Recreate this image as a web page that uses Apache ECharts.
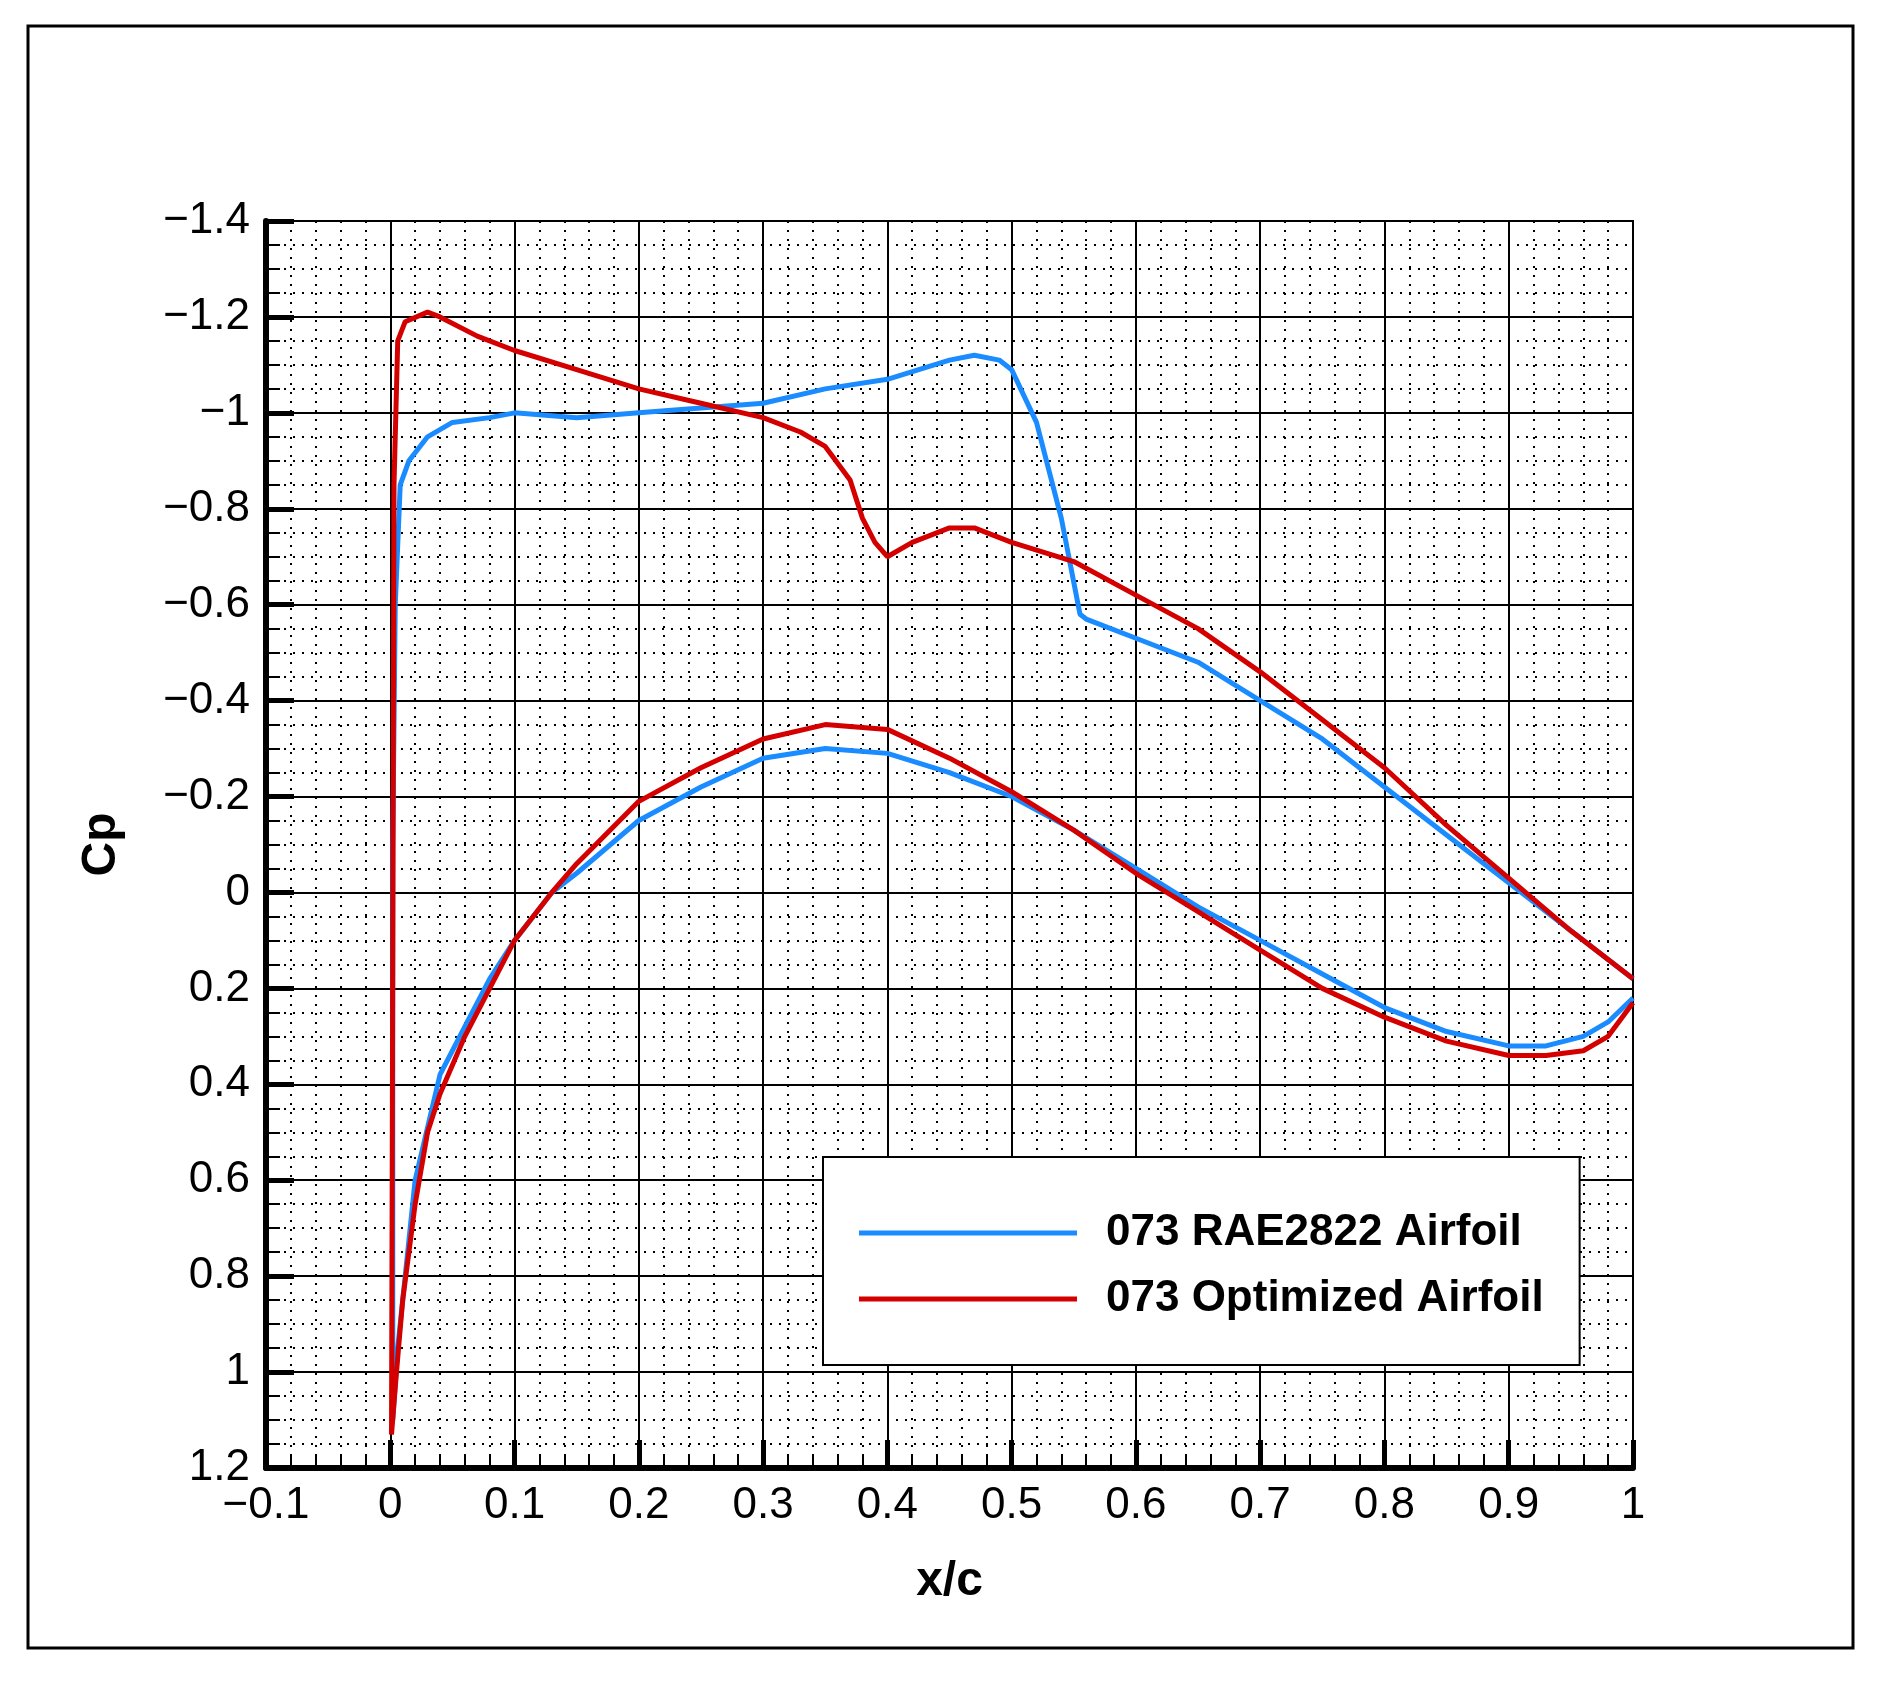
<!DOCTYPE html>
<html><head><meta charset="utf-8">
<script src="https://cdn.jsdelivr.net/npm/echarts@6/dist/echarts.min.js"></script>
<style>html,body{margin:0;padding:0;background:#fff}#c{width:1880px;height:1690px}</style>
</head><body><div id="c"></div>
<script>
// Baseline RAE2822: [x/c, Cp]
const raeLower = [[0.002,1.1],[0.006,0.95],[0.01,0.85],[0.02,0.6],[0.04,0.38],[0.06,0.28],[0.08,0.18],[0.1,0.1],[0.13,0.0],[0.15,-0.04],[0.2,-0.15],[0.25,-0.22],[0.3,-0.28],[0.35,-0.3],[0.4,-0.29],[0.45,-0.25],[0.5,-0.2],[0.55,-0.13],[0.6,-0.05],[0.65,0.03],[0.7,0.1],[0.75,0.17],[0.8,0.24],[0.85,0.29],[0.9,0.32],[0.93,0.32],[0.96,0.3],[0.98,0.27],[1.0,0.22]];
const raeUpper = [[0.002,-0.1],[0.004,-0.6],[0.008,-0.85],[0.015,-0.9],[0.03,-0.95],[0.05,-0.98],[0.08,-0.99],[0.1,-1.0],[0.15,-0.99],[0.2,-1.0],[0.25,-1.01],[0.3,-1.02],[0.35,-1.05],[0.4,-1.07],[0.45,-1.11],[0.47,-1.12],[0.49,-1.11],[0.5,-1.09],[0.52,-0.98],[0.54,-0.78],[0.555,-0.58],[0.56,-0.57],[0.6,-0.53],[0.65,-0.48],[0.7,-0.4],[0.75,-0.32],[0.8,-0.22],[0.85,-0.12],[0.9,-0.02],[0.95,0.08],[1.0,0.18]];
// Optimized airfoil
const optLower = [[0.001,1.13],[0.005,1.0],[0.01,0.85],[0.02,0.65],[0.03,0.5],[0.04,0.42],[0.06,0.3],[0.08,0.2],[0.1,0.1],[0.13,0.0],[0.15,-0.06],[0.2,-0.19],[0.25,-0.26],[0.3,-0.32],[0.35,-0.35],[0.4,-0.34],[0.45,-0.28],[0.5,-0.21],[0.55,-0.13],[0.6,-0.04],[0.65,0.04],[0.7,0.12],[0.75,0.2],[0.8,0.26],[0.85,0.31],[0.9,0.34],[0.93,0.34],[0.96,0.33],[0.98,0.3],[1.0,0.23]];
const optUpper = [[0.001,1.13],[0.003,-0.85],[0.006,-1.15],[0.012,-1.19],[0.03,-1.21],[0.04,-1.2],[0.07,-1.16],[0.1,-1.13],[0.15,-1.09],[0.2,-1.05],[0.25,-1.02],[0.3,-0.99],[0.33,-0.96],[0.35,-0.93],[0.37,-0.86],[0.38,-0.78],[0.39,-0.73],[0.4,-0.7],[0.42,-0.73],[0.45,-0.76],[0.47,-0.76],[0.5,-0.73],[0.55,-0.69],[0.6,-0.62],[0.65,-0.55],[0.7,-0.46],[0.75,-0.36],[0.8,-0.26],[0.85,-0.14],[0.9,-0.03],[0.95,0.08],[1.0,0.18]];
const seriesNames = ['073 RAE2822 Airfoil','073 Optimized Airfoil'];

const fmt = v => String(Math.round(v*10)/10).replace('-', '\u2212');
const chart = echarts.init(document.getElementById('c'));
const F = 'Liberation Sans, Arial, sans-serif';
const axCommon = {
  axisLine:{show:true,onZero:false,lineStyle:{color:'#000',width:6}},
  axisTick:{show:true,inside:true,length:28,lineStyle:{color:'#000',width:5}},
  minorTick:{show:true,length:14,lineStyle:{color:'#000',width:2}},
  splitLine:{show:true,lineStyle:{color:'#000',width:2}},
  minorSplitLine:{show:true,lineStyle:{color:'#000',width:2,type:[2,7]}},
  axisLabel:{color:'#000',fontFamily:F,fontSize:44,formatter:fmt},
  nameTextStyle:{color:'#000',fontFamily:F,fontSize:48,fontWeight:'bold'}
};
chart.setOption({
  animation:false,
  backgroundColor:'#fff',
  graphic:[{type:'rect',shape:{x:28,y:26,width:1825,height:1622},style:{fill:'none',stroke:'#000',lineWidth:3},z:-1}],
  grid:{left:266,top:221,width:1367,height:1247,show:true,borderColor:'#000',borderWidth:2,backgroundColor:'transparent'},
  xAxis:Object.assign({},axCommon,{type:'value',min:-0.1,max:1,interval:0.1,name:'x/c',nameLocation:'middle',nameGap:90,
    minorTick:Object.assign({},axCommon.minorTick,{splitNumber:5}),
    axisLabel:Object.assign({},axCommon.axisLabel,{margin:16})}),
  yAxis:Object.assign({},axCommon,{type:'value',min:-1.4,max:1.2,interval:0.2,inverse:true,name:'Cp',nameLocation:'middle',nameGap:140,
    minorTick:Object.assign({},axCommon.minorTick,{splitNumber:4}),
    axisLabel:Object.assign({},axCommon.axisLabel,{margin:16})}),
  legend:{left:823,top:1157,orient:'vertical',padding:[54,36,44,36],itemGap:22,itemWidth:218,itemHeight:5,icon:'rect',
    borderColor:'#000',borderWidth:2,backgroundColor:'#fff',
    textStyle:{fontFamily:F,fontSize:44,fontWeight:'bold',color:'#000',padding:[0,0,0,24]},data:seriesNames},
  series:[
    {name:seriesNames[0],type:'line',showSymbol:false,symbol:'none',color:'#1a8cff',lineStyle:{width:5},
     data:raeLower.slice().reverse().concat(raeUpper)},
    {name:seriesNames[1],type:'line',showSymbol:false,symbol:'none',color:'#d40000',lineStyle:{width:5},
     data:optLower.slice().reverse().concat(optUpper)}
  ]
});
</script></body></html>
